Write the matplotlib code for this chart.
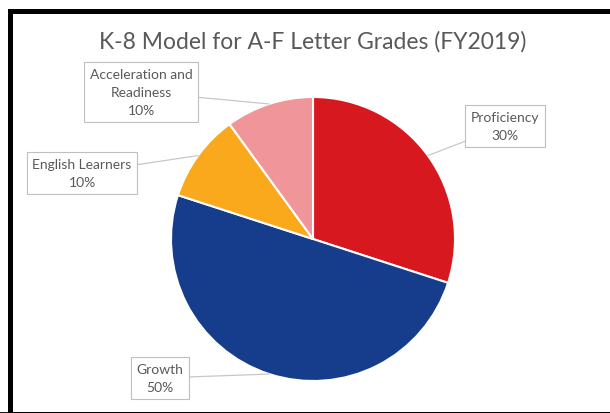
import numpy as np
import matplotlib
matplotlib.use("Agg")
import matplotlib.pyplot as plt
from matplotlib.patches import Rectangle

# data
labels = ["Proficiency", "Growth", "English Learners", "Acceleration and\nReadiness"]
shares = [30, 50, 10, 10]
colors = ["#D7191F", "#163D8C", "#F9A91B", "#F0969A"]
title = "K-8 Model for A-F Letter Grades (FY2019)"

# label box centres in pixel coords (x right, y down)
label_pos = [(505, 127), (160, 379), (82, 174), (141, 93)]

W, H = 610, 414
fig = plt.figure(figsize=(W / 100, H / 100), dpi=100)
ax = fig.add_axes([0, 0, 1, 1])
ax.set_axis_off()

cx, cy, r = 313, H - 240, 142
wedges, _ = ax.pie(shares, colors=colors, startangle=90, counterclock=False,
                   center=(cx, cy), radius=r,
                   wedgeprops=dict(edgecolor="white", linewidth=1.5))
ax.set_xlim(0, W)
ax.set_ylim(0, H)
ax.set_aspect("equal")

txt = "#595959"
ax.text(313, H - 42, title, ha="center", va="center", fontsize=16.5,
        family="Lato", color=txt)

for w, lab, val, (px, py) in zip(wedges, labels, shares, label_pos):
    ang = np.deg2rad((w.theta1 + w.theta2) / 2)
    xy = (cx + r * np.cos(ang), cy + r * np.sin(ang))
    ax.annotate(f"{lab}\n{val}%", xy=xy, xytext=(px, H - py),
                ha="center", va="center", fontsize=10, family="Lato",
                color=txt, linespacing=1.6,
                bbox=dict(boxstyle="square,pad=0.4", fc="white",
                          ec="#BFBFBF", lw=0.8),
                arrowprops=dict(arrowstyle="-", color="#C8C8C8", lw=0.9,
                                shrinkA=0, shrinkB=0))

# outer frame
ax.add_patch(Rectangle((9.5, -1), W + 20, H - 11.5 + 1, fill=False,
                       ec="black", lw=3.6, clip_on=False))
ax.plot([0, W], [0.5, 0.5], color="black", lw=2)

fig.savefig("out.png", dpi=100)
